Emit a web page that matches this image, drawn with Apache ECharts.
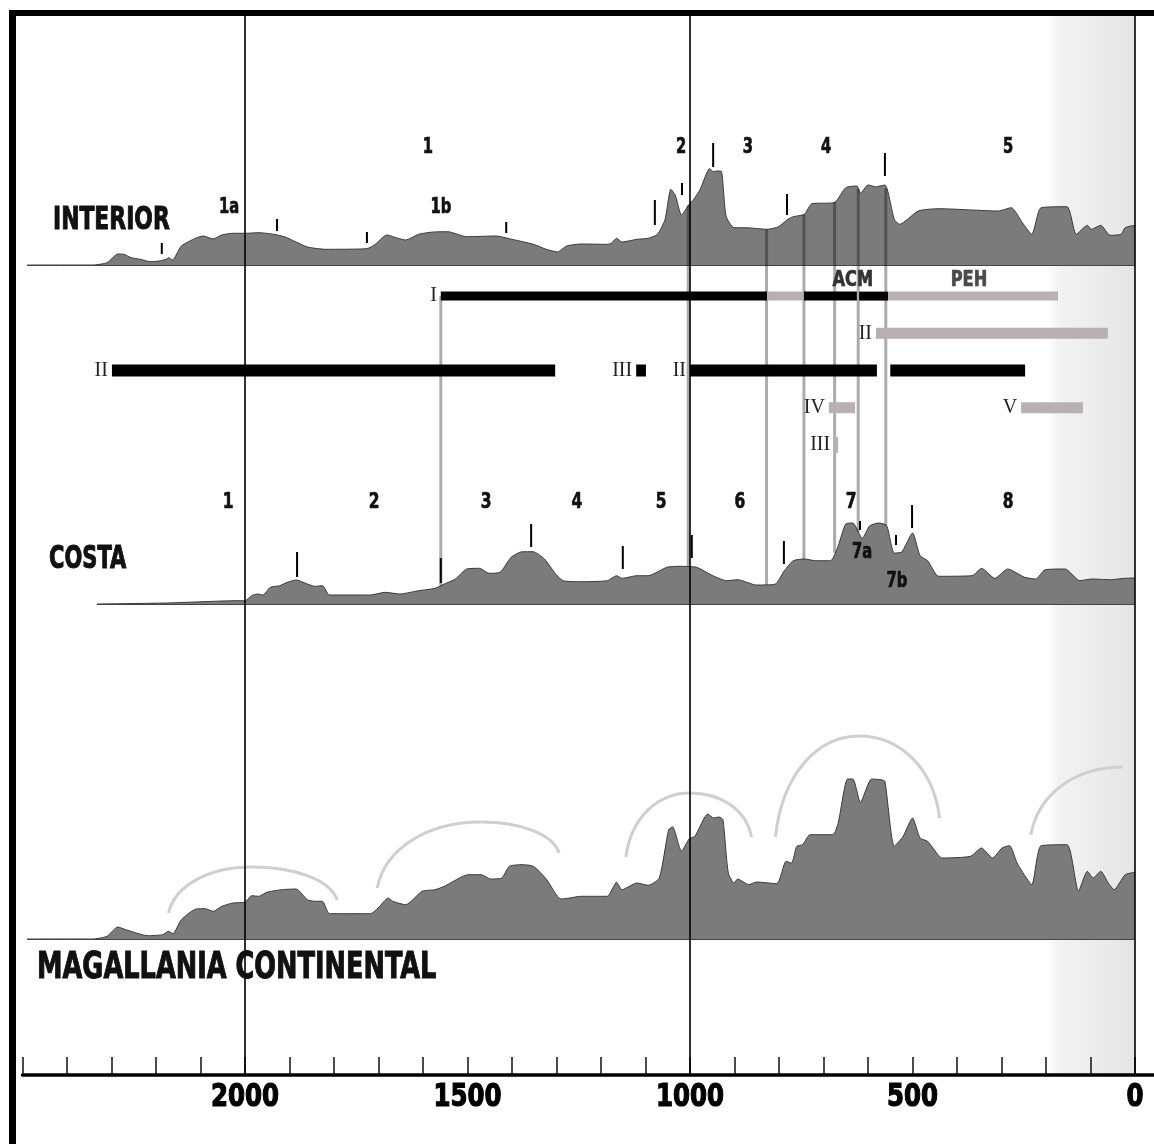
<!DOCTYPE html>
<html>
<head>
<meta charset="utf-8">
<script src="https://cdn.jsdelivr.net/npm/echarts@6/dist/echarts.min.js"></script>
<style>
html,body{margin:0;padding:0;background:#fff}
#main{width:1154px;height:1144px}
</style>
</head>
<body>
<div id="main"></div>
<script>
var FONT = "'DejaVu Sans Condensed','DejaVu Sans',sans-serif";
var NARROW = 0.78;

// profiles: years BP and height of the curve above its own baseline
var interiorYears = [2490,2342,2310,2286,2272,2256,2235,2213,2193,2177,2172,2163,2143,2110,2093,2072,2052,2027,2000,1969,1935,1910,1885,1860,1818,1727,1710,1681,1656,1639,1610,1577,1544,1502,1436,1406,1352,1323,1298,1277,1245,1186,1177,1165,1153,1119,1094,1073,1056,1043,1033,1019,1002,993,977,956,947,939,930,919,901,876,826,801,780,768,743,726,676,650,625,617,600,583,562,541,529,487,441,307,278,253,232,211,153,132,107,98,77,56,31,22,0];
var interiorHeights = [0,0,2.3,11,10.7,7.3,5.7,3.3,4,5.7,7.3,5,19,27,29,26,30,31.7,31.7,32.3,30.7,28,23,18,15.7,16.3,19.7,30,26.7,25,30.7,33,33.3,28.3,29,26.3,20.7,15.7,13,19,21,20.7,21.7,26.7,23,25.7,26.7,30.7,45.7,75.7,69.7,50,60.7,64.7,75.7,96.3,93.3,94,94,49,37.3,37.3,35.7,38.3,45.7,48.3,50.7,61.3,62.3,77.3,79,71.7,80,78.3,80,45.7,40.7,54,56.3,54,57.3,42.3,30.7,57.3,58.3,30.7,39.7,35.7,39.7,29.7,30.7,37.3,39.7];

var costaYears = [2333,2176,2018,2000,1985,1972,1960,1943,1922,1905,1885,1860,1843,1826,1810,1718,1685,1652,1610,1573,1552,1527,1502,1473,1452,1427,1402,1377,1353,1327,1302,1285,1246,1186,1165,1153,1119,1094,1052,1027,985,952,918,893,851,809,788,768,743,718,684,667,650,634,613,596,575,558,541,525,500,483,466,441,366,345,315,286,248,223,202,157,124,98,56,22,0];
var costaHeights = [0,1,3.3,3.3,8.3,10,9,16.7,18.3,21.7,24,20,17.7,18.3,9,9,11.7,10,13.3,15.7,20,25,35,35.7,30.7,31.7,46.7,52.3,52.3,45,30,23.3,22.3,23.3,28.3,25.7,28.3,28.3,36.7,37.7,36.7,29,23.3,24.3,19,19.7,33.3,43.3,45,43.3,43.3,58.3,80,81,65.7,78.3,81,78.3,51,51.7,71,48.3,43.3,27.7,28.3,35.7,25.7,35,26.7,25,34.3,35,23.3,25,24.3,25.7,26];

var magYears = [2490,2342,2310,2286,2268,2218,2185,2172,2162,2143,2110,2090,2071,2052,2027,2000,1985,1969,1951,1918,1885,1860,1843,1826,1810,1718,1701,1678,1668,1639,1602,1573,1552,1498,1469,1448,1423,1406,1377,1352,1323,1290,1270,1246,1186,1165,1153,1119,1094,1069,1048,1039,1019,1002,989,960,947,935,926,914,901,893,868,851,805,784,772,760,747,730,679,667,646,634,617,592,571,562,541,521,500,483,466,441,433,370,345,320,299,282,265,249,232,211,153,127,107,94,77,60,47,22,0];
var magHeights = [0,0,2.7,12,9.3,3.3,4.3,7.7,5.3,19.3,30,30.3,27.7,32.7,36,36.7,43.3,42.7,46.7,49.3,50,39.3,37.7,37.7,25.3,25.3,31,41,37.7,34.3,47.7,49.3,52.7,64.3,64.3,60,61,72.7,74.3,72.7,60,40,41,42.7,42.7,56.7,49.3,56,53.7,61,109.3,112,87.7,100,102.7,125,121,122,119.3,66,56,60,54.3,57,55.3,77.7,76,92.7,94.3,104.3,104.3,116,160,160,136.7,160,159.3,157.7,92.7,102.7,121,101,97.7,83.3,81,82.7,91,81,91,93.3,76,64.3,54.3,93.3,94.3,47.7,67.7,61,67.7,56,49.3,64.3,66.7];

// phase numbers and sub-phases
var interiorPhaseNames = ['1','2','3','4','5'];
var interiorPhaseYears = [1589,1020,870,694,285];
var interiorSubNames = ['1a','1b'];
var interiorSubYears = [2036,1560];
var costaPhaseNames = ['1','2','3','4','5','6','7','8'];
var costaPhaseYears = [2038,1710,1458,1254,1065,888,638,285];
var costaSubNames = ['7a','7b'];
var costaSubYears = [613,535];
var costaSubHeights = [51,22];

// short boundary marks: year, bottom and top height
var interiorMarkYears = [2187,1928,1726,1413,1079,1018,948,782,562];
var interiorMarkLow = [11,34,22,32,40,70,98,50,89];
var interiorMarkHigh = [22,46,33,43,65,82,122,71,112];
var costaMarkYears = [1883,1560,1357,1151,996,789,618,537,501];
var costaMarkLow = [27,21,57,35,46,40,74,59,76];
var costaMarkHigh = [52,46,80,58,69,63,83,69,99];

// horizontal period bars
var phaseStart = [1560,827,744,620,555,582,2299,1121,1000,550,688,256,676];
var phaseEnd = [827,744,625,555,173,61,1303,1099,580,247,629,117,667];
var phaseRow = [0,0,0,0,0,1,2,2,2,2,3,3,4];
var phaseTone = ['k','g','k','k','g','g','k','k','k','k','g','g','g'];
var phaseLabel = ['I','','','','','II','II','III','II','','IV','V','III'];
var rowThickness = [9,11,12,11,16];
var bandNames = ['ACM','PEH'];
var bandYears = [634,373];
var bandColors = ['#333','#4a4a4a'];

// grey connectors between the profiles
var connectorYears = [1560,1004,828,744,675,622,560];
var connectorFrom = ['I','interior','interior','interior','interior','interior','interior'];

// arcs above the continental profile: start, top, end
var arcStartYears = [2172,1703,1144,808,234];
var arcStartHeights = [26,51,82,102,104];
var arcTopYears = [1985,1470,1000,620,28];
var arcTopHeights = [72,117,146,203,172];
var arcEndYears = [1793,1294,862,439,28];
var arcEndHeights = [39,86,102,121,172];

var referenceYears = [2000,1000,0];
var tickLabels = [2000,1500,1000,500,0];
var shadeFrom = 200, shadeTo = 0;

function pairs(xs, ys) {
  var out = [];
  for (var i = 0; i < xs.length; i++) out.push([xs[i], ys[i]]);
  return out;
}
function surface(xs, ys, year) {
  for (var i = 0; i < xs.length - 1; i++) {
    if (year <= xs[i] && year >= xs[i + 1]) {
      var t = (xs[i] - year) / (xs[i] - xs[i + 1]);
      return ys[i] + t * (ys[i + 1] - ys[i]);
    }
  }
  return 0;
}

var LEFT = 22.5, RIGHT = -25.5;
var grids = [
  {left: LEFT, right: RIGHT, top: 16, bottom: 69},
  {left: LEFT, right: RIGHT, top: 20, bottom: 879},
  {left: LEFT, right: RIGHT, top: 277.5, bottom: 680.5},
  {left: LEFT, right: RIGHT, top: 470, bottom: 540},
  {left: LEFT, right: RIGHT, top: 720, bottom: 205}
];
grids.forEach(function (g) { g.outerBoundsMode = 'none'; g.containLabel = false; });

var xAxes = grids.map(function (g, i) {
  var ax = {type: 'value', gridIndex: i, min: -100, max: 2500, interval: 100, inverse: true,
    show: i === 0, splitLine: {show: false}};
  if (i === 0) {
    ax.axisLine = {show: true, onZero: false, lineStyle: {color: '#000', width: 3.5}};
    ax.axisTick = {show: true, inside: true, length: 18, lineStyle: {color: '#111', width: 1.5}};
    ax.axisLabel = {show: false};
  }
  return ax;
});
var yAxes = [
  {type: 'value', gridIndex: 0, min: 0, max: 1, show: false},
  {type: 'value', gridIndex: 1, min: 0, max: 245, show: false},
  {type: 'category', gridIndex: 2, data: ['0','1','2','3','4'], inverse: true, show: false},
  {type: 'value', gridIndex: 3, min: 0, max: 134, show: false},
  {type: 'value', gridIndex: 4, min: 0, max: 219, show: false}
];

function profile(idx, xs, ys) {
  return {
    type: 'line', xAxisIndex: idx, yAxisIndex: idx, data: pairs(xs, ys),
    symbol: 'none', smooth: 0.2, silent: true, z: 2,
    lineStyle: {color: '#3a3a3a', width: 1},
    areaStyle: {color: '#7b7b7b', opacity: 1},
    markLine: {
      silent: true, symbol: ['none', 'none'], label: {show: false},
      lineStyle: {color: '#444', width: 1.2, type: 'solid'},
      data: [[{coord: [xs[0], 0]}, {coord: [xs[xs.length - 1], 0]}]]
    }
  };
}
function marks(idx, xs, lo, hi) {
  return {
    type: 'custom', xAxisIndex: idx, yAxisIndex: idx, silent: true, z: 6,
    data: xs.map(function (x, i) { return [x, lo[i], hi[i]]; }),
    encode: {x: 0, y: [1, 2]},
    renderItem: function (params, api) {
      var a = api.coord([api.value(0), api.value(1)]);
      var b = api.coord([api.value(0), api.value(2)]);
      return {type: 'line', shape: {x1: a[0], y1: a[1], x2: b[0], y2: b[1]},
        style: {stroke: '#000', lineWidth: 2}};
    }
  };
}
// bold condensed captions placed at a year / height
function captions(idx, names, xs, hs, size, colors, dy, sx, heavy) {
  return {
    type: 'custom', xAxisIndex: idx, yAxisIndex: idx, silent: true, z: 20,
    data: names.map(function (n, i) { return [xs[i], Array.isArray(hs) ? hs[i] : hs]; }),
    encode: {x: 0, y: 1},
    renderItem: function (params, api) {
      var p = api.coord([api.value(0), api.value(1)]);
      var i = params.dataIndex;
      var c = Array.isArray(colors) ? colors[i] : colors;
      return {type: 'text', x: p[0], y: p[1] + (dy || 0), scaleX: sx || NARROW,
        style: {text: names[i], font: 'bold ' + size + 'px ' + FONT, fill: c,
          stroke: c, lineWidth: heavy || 0.7,
          textAlign: 'center', textVerticalAlign: 'middle'}};
    }
  };
}

var series = [
  {
    type: 'custom', xAxisIndex: 0, yAxisIndex: 0, silent: true, z: 0,
    data: [[shadeFrom, shadeTo]],
    renderItem: function (params, api) {
      var a = api.coord([api.value(0), 1]);
      var b = api.coord([api.value(1), 0]);
      return {type: 'rect', shape: {x: a[0], y: a[1], width: b[0] - a[0], height: b[1] - a[1]},
        style: {fill: new echarts.graphic.LinearGradient(0, 0, 1, 0, [
          {offset: 0, color: 'rgba(0,0,0,0)'},
          {offset: 0.15, color: 'rgba(0,0,0,0.05)'},
          {offset: 1, color: 'rgba(0,0,0,0.1)'}])}};
    }
  },
  {
    type: 'custom', xAxisIndex: 0, yAxisIndex: 0, silent: true, z: 8,
    data: referenceYears.map(function (y) { return [y]; }),
    renderItem: function (params, api) {
      var a = api.coord([api.value(0), 1]);
      var b = api.coord([api.value(0), 0]);
      return {type: 'line', shape: {x1: a[0], y1: a[1], x2: b[0], y2: b[1]},
        style: {stroke: '#000', lineWidth: 1.6}};
    }
  },
  captions(0, tickLabels.map(String), tickLabels, 0, 32, '#000', 23, 0.85, 1.2),
  profile(1, interiorYears, interiorHeights),
  marks(1, interiorMarkYears, interiorMarkLow, interiorMarkHigh),
  captions(1, interiorPhaseNames, interiorPhaseYears, 117, 21, '#111'),
  captions(1, interiorSubNames, interiorSubYears, 57, 21, '#111'),
  {
    type: 'custom', xAxisIndex: 2, yAxisIndex: 2, silent: true, z: 10,
    data: phaseStart.map(function (s, i) { return [s, phaseEnd[i], phaseRow[i]]; }),
    encode: {x: [0, 1], y: 2},
    renderItem: function (params, api) {
      var i = params.dataIndex;
      var row = api.value(2);
      var a = api.coord([api.value(0), row]);
      var b = api.coord([api.value(1), row]);
      var h = rowThickness[row];
      var x0 = Math.min(a[0], b[0]);
      var kids = [{type: 'rect', shape: {x: x0, y: a[1] - h / 2, width: Math.abs(b[0] - a[0]), height: h},
        style: {fill: phaseTone[i] === 'k' ? '#000' : '#b8b0b2'}}];
      if (phaseLabel[i]) {
        kids.push({type: 'text', x: x0 - 4, y: a[1],
          style: {text: phaseLabel[i], font: '20px "Liberation Serif", serif', fill: '#222',
            textAlign: 'right', textVerticalAlign: 'middle'}});
      }
      return {type: 'group', children: kids};
    }
  },
  captions(2, bandNames, bandYears, 0, 22, bandColors, -16, 0.82),
  profile(3, costaYears, costaHeights),
  marks(3, costaMarkYears, costaMarkLow, costaMarkHigh),
  captions(3, costaPhaseNames, costaPhaseYears, 102, 22, '#111'),
  captions(3, costaSubNames, costaSubYears, costaSubHeights, 21, '#111'),
  profile(4, magYears, magHeights),
  {
    type: 'custom', xAxisIndex: 4, yAxisIndex: 4, silent: true, z: 3,
    data: arcStartYears.map(function (s, i) {
      return [s, arcStartHeights[i], arcTopYears[i], arcTopHeights[i], arcEndYears[i], arcEndHeights[i]];
    }),
    encode: {x: [0, 2, 4], y: [1, 3, 5]},
    renderItem: function (params, api) {
      var s = api.coord([api.value(0), api.value(1)]);
      var p = api.coord([api.value(2), api.value(3)]);
      var e = api.coord([api.value(4), api.value(5)]);
      var st = {stroke: '#cfcfcf', lineWidth: 3, fill: 'none'};
      var kids = [{type: 'bezierCurve', style: st, shape: {
        x1: s[0], y1: s[1],
        cpx1: s[0] + 0.08 * (p[0] - s[0]), cpy1: s[1] + 0.62 * (p[1] - s[1]),
        cpx2: p[0] - 0.5 * (p[0] - s[0]), cpy2: p[1],
        x2: p[0], y2: p[1]}}];
      if (Math.abs(e[0] - p[0]) > 1) {
        kids.push({type: 'bezierCurve', style: st, shape: {
          x1: p[0], y1: p[1],
          cpx1: p[0] + 0.5 * (e[0] - p[0]), cpy1: p[1],
          cpx2: e[0] - 0.08 * (e[0] - p[0]), cpy2: e[1] + 0.62 * (p[1] - e[1]),
          x2: e[0], y2: e[1]}});
      }
      return {type: 'group', children: kids};
    }
  }
];

var myChart = echarts.init(document.getElementById('main'));
myChart.setOption({
  animation: false,
  backgroundColor: '#fff',
  grid: grids,
  xAxis: xAxes,
  yAxis: yAxes,
  series: series
});

function heading(text, x, y, size, sx) {
  return {type: 'text', x: x, y: y, scaleX: sx, z: 30,
    style: {text: text, font: 'bold ' + size + 'px ' + FONT, fill: '#111', stroke: '#111', lineWidth: 1,
      textVerticalAlign: 'middle'}};
}
var graphics = [
  {type: 'rect', shape: {x: 9, y: 10, width: 1145, height: 6}, style: {fill: '#000'}, z: 30},
  {type: 'rect', shape: {x: 9, y: 10, width: 7, height: 1134}, style: {fill: '#000'}, z: 30},
  heading('INTERIOR', 53, 221, 32, 0.76),
  heading('COSTA', 49, 560, 32, 0.73),
  heading('MAGALLANIA CONTINENTAL', 37, 968, 37, 0.77)
];
connectorYears.forEach(function (year, i) {
  var top = connectorFrom[i] === 'I'
    ? myChart.convertToPixel({gridIndex: 2}, [year, 0])
    : myChart.convertToPixel({gridIndex: 1}, [year, surface(interiorYears, interiorHeights, year)]);
  var bot = myChart.convertToPixel({gridIndex: 3}, [year, surface(costaYears, costaHeights, year)]);
  graphics.push({type: 'line', z: 5, silent: true,
    shape: {x1: top[0], y1: top[1], x2: bot[0], y2: bot[1]},
    style: {stroke: 'rgba(0,0,0,0.33)', lineWidth: 3}});
});
myChart.setOption({graphic: graphics});
</script>
</body>
</html>
